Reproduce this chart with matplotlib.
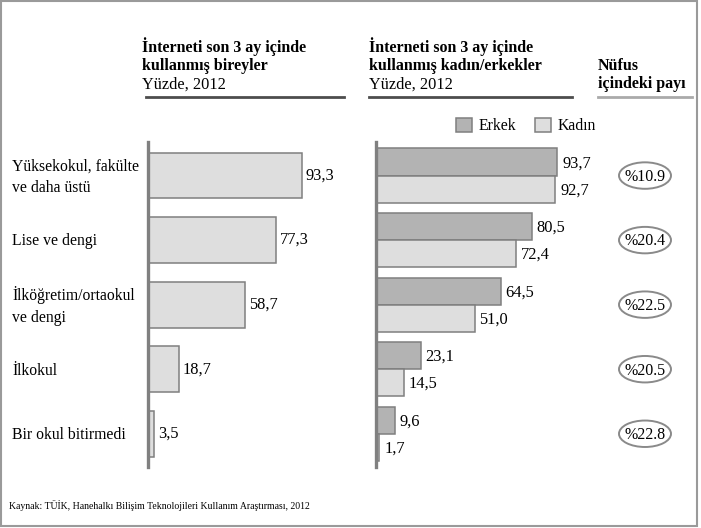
import matplotlib

matplotlib.use("Agg")
import matplotlib.pyplot as plt
from matplotlib.patches import Ellipse, Rectangle
from matplotlib.transforms import blended_transform_factory

plt.rcParams["font.family"] = ["Liberation Serif", "DejaVu Serif"]

# data
categories = [
    "Yüksekokul, fakülte\nve daha üstü",
    "Lise ve dengi",
    "İlköğretim/ortaokul\nve dengi",
    "İlkokul",
    "Bir okul bitirmedi",
]
total_users = [93.3, 77.3, 58.7, 18.7, 3.5]
male_users = [93.7, 80.5, 64.5, 23.1, 9.6]
female_users = [92.7, 72.4, 51.0, 14.5, 1.7]
population_share = ["%10.9", "%20.4", "%22.5", "%20.5", "%22.8"]

W, H = 701, 528
fig = plt.figure(figsize=(W / 100, H / 100), dpi=100)


def fx(px):
    return px / W


def fy(py):
    return 1 - py / H


def axes_px(left, top, width, height):
    return fig.add_axes([fx(left), fy(top + height), width / W, height / H])


# outer frame
fig.patches.append(
    Rectangle((fx(1), fy(526)), fx(696), 525 / H, transform=fig.transFigure,
              fill=False, edgecolor="#9a9a9a", linewidth=1.5)
)

light = "#dedede"
dark = "#b3b3b3"
edge = "#7f7f7f"
ylim = (4.515, -0.52)
positions = list(range(len(categories)))

# left panel
ax1 = axes_px(148, 142, 165, 325)
ax1.barh(positions, total_users, height=0.71, color=light, edgecolor=edge, linewidth=1.1)
for y, v in zip(positions, total_users):
    ax1.text(v + 2.4, y, f"{v:.1f}".replace(".", ","), va="center", ha="left", fontsize=11.8)
ax1.set_xlim(0, 100)
ax1.set_ylim(*ylim)

# right panel
ax2 = axes_px(376, 142, 193.5, 325)
off = 0.21
ax2.barh([p - off for p in positions], male_users, height=0.42, color=dark,
         edgecolor=edge, linewidth=1.1, label="Erkek")
ax2.barh([p + off for p in positions], female_users, height=0.42, color=light,
         edgecolor=edge, linewidth=1.1, label="Kadın")
for y, m, f in zip(positions, male_users, female_users):
    ax2.text(m + 2.5, y - off + 0.02, f"{m:.1f}".replace(".", ","), va="center", ha="left", fontsize=11.8)
    ax2.text(f + 2.5, y + off + 0.02, f"{f:.1f}".replace(".", ","), va="center", ha="left", fontsize=11.8)
ax2.set_xlim(0, 100)
ax2.set_ylim(*ylim)

for ax in (ax1, ax2):
    for side in ("top", "right", "bottom"):
        ax.spines[side].set_visible(False)
    ax.spines["left"].set_color("#808080")
    ax.spines["left"].set_linewidth(2.4)
    ax.set_xticks([])
    ax.set_yticks([])
    ax.patch.set_visible(False)

# category labels
trans = blended_transform_factory(fig.transFigure, ax1.transData)
for y, label in zip(positions, categories):
    ax1.text(fx(12), y + 0.02, label, transform=trans, ha="left", va="center",
             fontsize=11.3, linespacing=1.45)

# population share column
ax3 = axes_px(600, 142, 90, 325)
ax3.set_xlim(0, 1)
ax3.set_ylim(*ylim)
ax3.axis("off")
for y, s in zip(positions, population_share):
    ax3.add_patch(Ellipse((0.5, y), 52 / 90, 0.41, facecolor="white",
                          edgecolor="#8a8a8a", linewidth=1.4))
    ax3.text(0.5, y + 0.02, s, ha="center", va="center", fontsize=11.5)

# legend
handles, labels = ax2.get_legend_handles_labels()
fig.legend(handles, labels, loc="center left", bbox_to_anchor=(fx(448), fy(126)),
           ncols=2, frameon=False, fontsize=11.3, handlelength=1.0, handleheight=1.0,
           handletextpad=0.45, columnspacing=1.2, borderpad=0)

# headers
hdr = dict(fontsize=11.5, fontweight="bold", ha="left", va="baseline")
fig.text(fx(142), fy(51.5), "İnterneti son 3 ay içinde", **hdr)
fig.text(fx(142), fy(70), "kullanmış bireyler", **hdr)
fig.text(fx(142), fy(89), "Yüzde, 2012", fontsize=11.8, ha="left", va="baseline")
fig.text(fx(369), fy(51.5), "İnterneti son 3 ay içinde", **hdr)
fig.text(fx(369), fy(70), "kullanmış kadın/erkekler", **hdr)
fig.text(fx(369), fy(89), "Yüzde, 2012", fontsize=11.8, ha="left", va="baseline")
fig.text(fx(598), fy(70), "Nüfus", **hdr)
fig.text(fx(598), fy(88.5), "içindeki payı", **hdr)

fig.add_artist(plt.Line2D([fx(146), fx(344)], [fy(97), fy(97)], color="#4d4d4d", linewidth=2))
fig.add_artist(plt.Line2D([fx(369), fx(572)], [fy(97), fy(97)], color="#4d4d4d", linewidth=2))
fig.add_artist(plt.Line2D([fx(598), fx(692)], [fy(97), fy(97)], color="#aaaaaa", linewidth=2))

fig.text(fx(9), fy(509), "Kaynak: TÜİK, Hanehalkı Bilişim Teknolojileri Kullanım Araştırması, 2012",
         fontsize=7, ha="left", va="baseline")

fig.savefig("out.png", dpi=100)
